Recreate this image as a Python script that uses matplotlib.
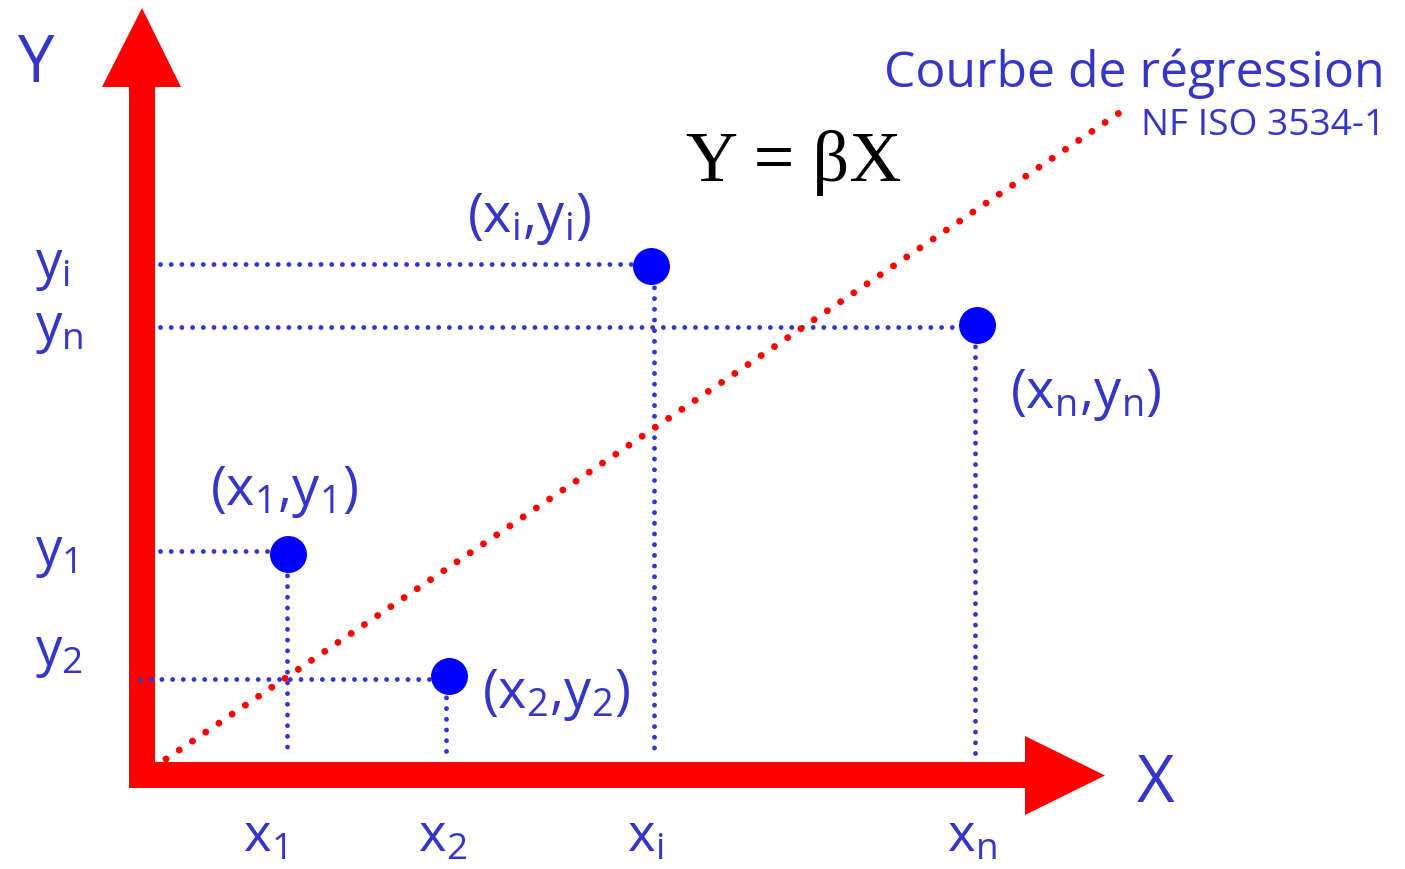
import matplotlib
matplotlib.use('Agg')
import matplotlib.pyplot as plt

plt.rcParams['font.family'] = ['Open Sans', 'DejaVu Sans']
plt.rcParams['mathtext.fontset'] = 'custom'
plt.rcParams['mathtext.rm'] = 'Open Sans'
plt.rcParams['mathtext.it'] = 'Open Sans'

# drawing works in pixel units of the 1405x870 picture, y pointing down
point_names = ['1', '2', 'i', 'n']
point_x = [288, 449, 651, 977]
point_y = [555, 677, 267, 326]
# the guides in the original sit slightly off the point centres
guide_x = [287, 446, 654, 975]
guide_y = [552, 680, 265, 328]
hguide_start = [160, 140, 160, 160]
vguide_end = [752, 752, 757, 757]

regression_x = [166, 1122]
regression_y = [760, 112]

xlabel_x = [243, 418, 627, 947]
ylabel_y = [565, 665, 278, 341]
pair_label_x = [210, 482, 467, 1010]
pair_label_y = [505, 708, 232, 408]

BLUE_TXT = '#3535c8'
RED = '#ff0000'

fig = plt.figure(figsize=(14.05, 8.7), dpi=100)
ax = fig.add_axes([0, 0, 1, 1])
ax.set_xlim(0, 1405)
ax.set_ylim(870, 0)
ax.axis('off')

# red axes with arrow heads
ax.fill([129, 129, 102, 142, 181, 155, 155], [789, 88, 88, 9, 88, 88, 789],
        color=RED, lw=0, zorder=2)
ax.fill([129, 1025, 1025, 1105, 1025, 1025, 129], [789, 789, 816, 776.5, 737, 763, 763],
        color=RED, lw=0, zorder=2)

# dotted guide lines
for gx, gy, px, py, hs, ve in zip(guide_x, guide_y, point_x, point_y,
                                  hguide_start, vguide_end):
    ax.plot([hs, px], [gy, gy], color=BLUE_TXT, lw=3.5,
            linestyle=(0, (0.001, 2.2)), dash_capstyle='round', zorder=3)
    ax.plot([gx, gx], [py, ve], color=BLUE_TXT, lw=3.5,
            linestyle=(0, (0.001, 2.2)), dash_capstyle='round', zorder=3)

# regression line
ax.plot(regression_x, regression_y, color=RED, lw=5,
        linestyle=(0, (0.001, 2.3)), dash_capstyle='round', zorder=4)

# data points
ax.plot(point_x, point_y, 'o', color='#0000ff', ms=26.6, mew=0, zorder=5)

# tick-like labels
for name, lx in zip(point_names, xlabel_x):
    ax.text(lx, 852, r'$\mathregular{x_%s}$' % name, fontsize=38,
            color=BLUE_TXT, ha='left', va='baseline')
for name, ly in zip(point_names, ylabel_y):
    ax.text(35, ly, r'$\mathregular{y_%s}$' % name, fontsize=38,
            color=BLUE_TXT, ha='left', va='baseline')
for name, lx, ly in zip(point_names, pair_label_x, pair_label_y):
    ax.text(lx, ly, r'$\mathregular{(x_%s{,}y_%s)}$' % (name, name), fontsize=39,
            color=BLUE_TXT, ha='left', va='baseline')

# axis names and titles
ax.text(17, 82, 'Y', fontsize=47, color=BLUE_TXT, ha='left', va='baseline')
ax.text(1137, 802, 'X', fontsize=47, color=BLUE_TXT, ha='left', va='baseline')
ax.text(1385, 87, 'Courbe de régression', fontsize=36, color=BLUE_TXT,
        ha='right', va='baseline')
ax.text(1385, 135, 'NF ISO 3534-1', fontsize=26.7, color=BLUE_TXT,
        ha='right', va='baseline')
ax.text(686, 181, 'Y = βX', fontsize=52, color='black', family='Liberation Serif',
        ha='left', va='baseline')

fig.savefig('out.png', dpi=100)
